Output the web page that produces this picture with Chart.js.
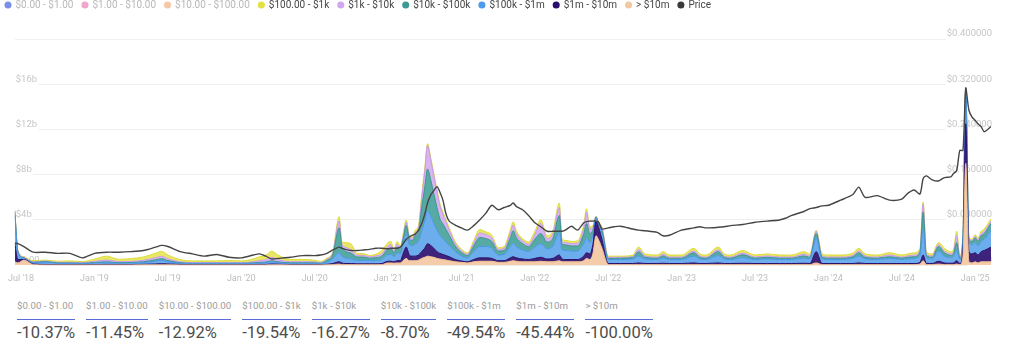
<!DOCTYPE html>
<html><head><meta charset="utf-8">
<script src="https://cdn.jsdelivr.net/npm/chart.js@4.4.1/dist/chart.umd.min.js"></script>
<style>
html,body{margin:0;padding:0;background:#fff;}
body{width:1024px;height:353px;overflow:hidden;position:relative;font-family:Roboto,'Open Sans',sans-serif;}
#wrap{position:absolute;left:0;top:0;width:1024px;height:292px;}
#stats{position:absolute;left:17px;top:300px;display:flex;gap:11px;}
.col .lab{font-size:9.7px;color:#9c9c9c;padding-bottom:7px;border-bottom:1.5px solid #5b6bd6;white-space:nowrap;line-height:12px;}
.col .val{font-size:16.5px;color:#4d4d4d;margin-top:3px;white-space:nowrap;line-height:20px;}
</style></head><body>
<div id="wrap"><canvas id="c" width="1024" height="292"></canvas></div>
<div id="stats"></div>
<script>
// ---------- data ----------
const dates = [
'2018-06-16','2018-06-24','2018-07-08','2018-08-01','2018-09-01','2018-10-01','2018-11-01','2018-12-01',
'2019-01-01','2019-02-01','2019-03-01','2019-04-01','2019-05-01','2019-06-01','2019-06-16','2019-07-01','2019-08-01','2019-09-01','2019-10-01','2019-11-01','2019-12-01',
'2020-01-01','2020-02-01','2020-02-16','2020-03-01','2020-03-16','2020-04-01','2020-05-01','2020-06-01','2020-07-01','2020-07-16','2020-08-01','2020-08-16','2020-09-01','2020-09-08','2020-09-16','2020-10-01','2020-10-16','2020-11-01','2020-11-16','2020-12-01','2020-12-16',
'2021-01-01','2021-01-08','2021-01-16','2021-01-24','2021-02-01','2021-02-08','2021-02-16','2021-02-24','2021-03-01','2021-03-08','2021-03-16','2021-03-24','2021-04-01','2021-04-08','2021-04-16','2021-04-24','2021-05-01','2021-05-08','2021-05-16','2021-05-24','2021-06-01','2021-06-16','2021-07-01','2021-07-16','2021-08-01','2021-08-16','2021-09-01','2021-09-16','2021-10-01','2021-10-16','2021-11-01','2021-11-08','2021-11-16','2021-12-01','2021-12-16',
'2022-01-01','2022-01-16','2022-02-01','2022-02-16','2022-03-01','2022-03-08','2022-03-16','2022-04-01','2022-04-16','2022-05-01','2022-05-08','2022-05-16','2022-05-24','2022-06-01','2022-06-08','2022-06-16','2022-07-01','2022-07-16','2022-08-01','2022-09-01','2022-09-16','2022-10-01','2022-11-01','2022-11-16','2022-12-01',
'2023-01-01','2023-02-01','2023-02-16','2023-03-01','2023-04-01','2023-04-16','2023-05-01','2023-06-01','2023-07-01','2023-08-01','2023-09-01','2023-09-16','2023-10-01','2023-11-01','2023-11-16','2023-12-01','2023-12-16',
'2024-01-01','2024-02-01','2024-03-01','2024-03-16','2024-04-01','2024-05-01','2024-06-01','2024-07-01','2024-07-16','2024-08-01','2024-08-16','2024-08-24','2024-09-01','2024-09-16','2024-10-01','2024-10-16','2024-11-01','2024-11-08','2024-11-16','2024-11-24','2024-12-01','2024-12-08','2024-12-16','2024-12-24',
'2025-01-01','2025-01-08','2025-01-16','2025-01-24','2025-02-10'
];
// balances in $ billions
const over10m = [
.3,.2,.45,.05,.02,.02,.02,.02,
.02,.02,.02,.02,.03,.03,.03,.03,.02,.02,.02,.02,.02,
.02,.02,.02,.02,.03,.03,.02,.02,.02,.02,.03,.05,.1,.05,.05,.05,.04,.04,.04,.04,.05,
.2,.2,.18,.2,.2,.4,.6,.4,.4,.4,.45,.6,.7,.8,.75,.7,.6,.55,.5,.45,.4,.3,.25,.2,.3,.35,.35,.35,.25,.25,.35,.4,.35,.3,.3,
.3,.35,.3,.3,.4,.3,.3,.3,.3,.4,.6,.5,1.0,2.6,2.2,1.5,.05,.05,.05,.05,.05,.05,.05,.05,.05,
.05,.05,.05,.05,.05,.05,.05,.05,.05,.05,.05,.05,.05,.05,.05,.2,.05,
.05,.05,.05,.05,.05,.05,.05,.05,.05,.05,.1,.4,.05,.05,.1,.05,.05,.05,.1,.05,.8,9.0,.3,.2,
.3,.2,.3,.3,.3
];
const m1to10m = [
1.6,.3,.05,.05,.05,.03,.03,.03,
.04,.05,.04,.04,.05,.08,.1,.08,.05,.03,.03,.03,.03,
.03,.04,.05,.05,.08,.06,.04,.04,.04,.03,.05,.1,.2,.15,.1,.1,.08,.08,.08,.08,.1,
.15,.15,.12,.2,.2,.6,1.0,.5,.4,.4,.45,.6,.8,1.1,1.0,.8,.6,.5,.45,.4,.35,.2,.12,.1,.2,.3,.3,.25,.15,.15,.3,.35,.3,.25,.2,
.3,.35,.25,.3,.5,.25,.2,.2,.2,.4,.5,.5,.8,1.3,1.1,.8,.1,.1,.1,.1,.15,.1,.1,.12,.1,
.1,.15,.1,.1,.15,.1,.1,.12,.1,.1,.1,.1,.1,.12,.1,1.0,.1,
.1,.1,.1,.15,.1,.1,.1,.1,.1,.1,.15,.5,.12,.1,.25,.15,.12,.15,.3,.1,.6,3.5,.9,.8,
.8,.7,.9,1.0,1.3
];
const k100to1m = [
2.5,.6,.1,.1,.2,.1,.1,.08,
.12,.15,.1,.12,.15,.25,.3,.2,.1,.08,.08,.08,.08,
.08,.1,.12,.15,.2,.15,.1,.1,.1,.08,.2,.4,.8,.6,.5,.4,.3,.3,.3,.3,.35,
.6,.6,.45,.7,.6,.8,1.2,.9,.9,1.1,1.2,1.8,2.4,2.9,2.6,2.2,1.9,1.6,1.4,1.2,1.0,.7,.45,.35,.7,1.0,1.0,.9,.5,.55,1.0,1.2,1.0,.8,.7,
1.0,1.2,.9,1.1,2.0,.8,.8,.75,.75,1.1,1.3,1.0,.8,.25,.25,.5,.35,.35,.35,.4,.6,.4,.35,.45,.35,
.35,.6,.4,.35,.65,.4,.35,.5,.35,.4,.35,.35,.35,.45,.4,1.2,.4,
.35,.35,.45,.6,.4,.35,.45,.35,.4,.45,.6,2.3,.5,.4,.9,.6,.5,.55,.9,.35,.8,2.8,.8,.8,
.9,.8,.9,1.0,1.5
];
const k10to100k = [
.3,.1,.05,.05,.05,.05,.05,.04,
.06,.08,.06,.06,.08,.12,.15,.1,.05,.04,.04,.04,.04,
.04,.05,.06,.06,.08,.06,.05,.05,.05,.04,.15,.4,2.2,.8,.6,.5,.3,.3,.2,.25,.3,
.5,.55,.35,.5,.4,.5,.7,.5,.5,.7,.8,2.0,3.0,3.7,3.2,2.6,2.0,1.5,1.3,1.1,.9,.5,.3,.2,.5,.8,.7,.6,.35,.35,.8,1.1,.8,.55,.45,
.7,.9,.6,.7,1.5,.5,.5,.45,.45,.9,1.3,.8,.5,.1,.1,.3,.1,.1,.12,.12,.4,.15,.12,.2,.12,
.12,.3,.15,.12,.35,.15,.12,.25,.12,.15,.12,.12,.12,.2,.15,.4,.15,
.12,.12,.15,.3,.15,.12,.15,.12,.15,.15,.3,1.5,.2,.15,.4,.3,.2,.25,.7,.12,.4,.3,.3,.3,
.4,.4,.5,.5,.6
];
const k1to10k = [
.1,.05,.05,.05,.05,.05,.06,.05,
.1,.15,.1,.1,.12,.18,.2,.15,.08,.06,.06,.06,.06,
.06,.1,.15,.2,.3,.2,.1,.1,.08,.06,.1,.15,.6,.3,.35,.3,.15,.15,.12,.15,.2,
.25,.3,.15,.25,.15,.2,.3,.2,.2,.3,.35,.8,1.4,2.1,1.8,1.6,1.4,1.15,.85,.65,.45,.25,.15,.12,.25,.4,.35,.3,.15,.2,.4,.5,.35,.25,.2,
.4,.9,.3,.4,.7,.25,.2,.2,.25,.5,1.0,.4,.25,.05,.05,.2,.1,.1,.08,.1,.2,.12,.1,.15,.1,
.1,.15,.12,.1,.15,.12,.1,.15,.1,.12,.1,.1,.1,.15,.12,.2,.12,
.1,.1,.12,.15,.12,.1,.15,.1,.12,.15,.15,.7,.15,.12,.15,.15,.15,.2,.6,.1,.2,.1,.1,.1,
.15,.15,.2,.2,.2
];
const d100to1k = [
.1,.05,.05,.1,.08,.1,.12,.1,
.2,.35,.2,.25,.3,.4,.45,.35,.2,.15,.15,.15,.18,
.15,.25,.35,.4,.55,.4,.2,.2,.15,.1,.1,.1,.4,.2,.4,.5,.15,.15,.12,.15,.3,
.3,.3,.15,.25,.15,.2,.2,.2,.2,.2,.25,.3,.3,.15,.2,.2,.2,.2,.2,.2,.2,.15,.15,.13,.2,.3,.25,.25,.15,.15,.3,.3,.25,.2,.2,
.3,.3,.25,.3,.4,.2,.2,.2,.2,.3,.3,.2,.15,.05,.1,.1,.1,.1,.1,.13,.2,.18,.18,.23,.18,
.18,.25,.18,.18,.25,.18,.18,.23,.18,.18,.18,.18,.18,.23,.18,.1,.18,
.18,.18,.2,.25,.18,.18,.2,.18,.18,.2,.2,.2,.18,.18,.2,.25,.18,.2,.4,.1,.2,.05,.1,.1,
.15,.15,.2,.2,.2
];
// price in USD
const price = [
.039,.038,.033,.023,.023,.021,.021,.013,
.021,.023,.023,.024,.026,.032,.035,.033,.024,.02,.016,.019,.014,
.013,.018,.02,.016,.011,.012,.014,.017,.017,.018,.021,.027,.032,.03,.028,.026,.026,.027,.028,.03,.03,
.029,.03,.03,.03,.032,.038,.046,.05,.053,.055,.062,.073,.09,.11,.124,.132,.139,.13,.115,.09,.078,.071,.066,.062,.07,.08,.092,.106,.098,.102,.106,.11,.104,.098,.088,
.075,.068,.06,.06,.06,.06,.062,.069,.062,.075,.077,.078,.078,.078,.076,.064,.066,.068,.069,.064,.062,.061,.058,.052,.053,
.062,.066,.068,.066,.067,.068,.07,.072,.076,.078,.08,.083,.088,.095,.1,.102,.105,
.106,.115,.125,.138,.12,.123,.115,.117,.127,.133,.126,.153,.158,.151,.149,.155,.156,.162,.167,.203,.203,.313,.274,.262,
.256,.25,.245,.236,.245
];
// small tiers (hidden in the reference legend state)
const smallDates = ['2018-06-16','2019-01-01','2019-07-01','2020-01-01','2020-07-01','2021-01-01','2021-07-01','2022-01-01','2022-07-01','2023-01-01','2023-07-01','2024-01-01','2024-07-01','2025-02-10'];
const d0to1 = [.002,.002,.002,.002,.002,.003,.003,.003,.003,.003,.003,.003,.003,.003];
const d1to10 = [.01,.01,.01,.01,.01,.012,.012,.012,.012,.011,.011,.011,.011,.011];
const d10to100 = [.03,.03,.03,.03,.03,.035,.035,.035,.035,.034,.034,.034,.034,.034];

const legendOrder = ['$0.00 - $1.00','$1.00 - $10.00','$10.00 - $100.00','$100.00 - $1k','$1k - $10k','$10k - $100k','$100k - $1m','$1m - $10m','> $10m','Price'];
const xTickDates = ['2018-07-01','2019-01-01','2019-07-01','2020-01-01','2020-07-01','2021-01-01','2021-07-01','2022-01-01','2022-07-01','2023-01-01','2023-07-01','2024-01-01','2024-07-01','2025-01-01'];
const xTickLabels = ["Jul '18","Jan '19","Jul '19","Jan '20","Jul '20","Jan '21","Jul '21","Jan '22","Jul '22","Jan '23","Jul '23","Jan '24","Jul '24","Jan '25"];
const leftTicks = {min:0, max:20, step:4};
const rightTicks = {min:0, max:0.4, step:0.08};

const statLabels = ['$0.00 - $1.00','$1.00 - $10.00','$10.00 - $100.00','$100.00 - $1k','$1k - $10k','$10k - $100k','$100k - $1m','$1m - $10m','> $10m'];
const statValues = ['-10.37%','-11.45%','-12.92%','-19.54%','-16.27%','-8.70%','-49.54%','-45.44%','-100.00%'];

// ---------- build ----------
const toM = s => { const [y,m,d] = s.split('-').map(Number); return (y-2018)*12 + (m-1) + (d-1)/31; };
const pts = (ds, arr) => ds.map((d,i) => ({x: toM(d), y: arr[i]}));
const FONT = 'Roboto';

function area(label, arr, fill, line, legendColor, opts={}) {
  return Object.assign({label, data: pts(dates, arr), backgroundColor: fill, borderColor: line, legendColor,
    borderWidth: 1, pointRadius: 0, fill: '-1', yAxisID: 'y', cubicInterpolationMode: 'monotone'}, opts);
}
const datasets = [
  area('> $10m', over10m, 'rgba(243,199,160,0.9)', '#edbb8e', '#f2c8a2', {fill:'origin'}),
  area('$1m - $10m', m1to10m, 'rgba(44,16,112,0.92)', '#2a0f6b', '#2a0f6b'),
  area('$100k - $1m', k100to1m, 'rgba(88,162,236,0.88)', '#4a95e6', '#4d9bea'),
  area('$10k - $100k', k10to100k, 'rgba(64,158,150,0.88)', '#3a958d', '#3d9a92'),
  area('$1k - $10k', k1to10k, 'rgba(212,170,241,0.88)', '#c99ae9', '#d1a8f0'),
  area('$100.00 - $1k', d100to1k, 'rgba(228,228,84,0.9)', '#dcdc3c', '#e1e23f'),
  Object.assign(area('$10.00 - $100.00', [], 'rgba(245,198,165,0.9)', '#f5c6a5', '#f6c7a4', {hidden:true}), {data: pts(smallDates, d10to100)}),
  Object.assign(area('$1.00 - $10.00', [], 'rgba(243,168,207,0.9)', '#f3a8cf', '#f0a5cc', {hidden:true}), {data: pts(smallDates, d1to10)}),
  Object.assign(area('$0.00 - $1.00', [], 'rgba(127,142,230,0.9)', '#7f8ee6', '#7b8ee8', {hidden:true}), {data: pts(smallDates, d0to1)}),
  {label:'Price', data: pts(dates, price), yAxisID:'y1', borderColor:'#454545', backgroundColor:'#454545', legendColor:'#3a3a3a',
   borderWidth:1.4, pointRadius:0, fill:false, tension:0.25, order:-1}
];
const xMin = toM(dates[0]), xMax = toM(dates[dates.length-1]);

const legendShift = {id:'legendShift', afterLayout(chart){ const l = chart.legend; if(!l) return; l.left -= 3.5; l.right -= 3.5; l.top -= 19; l.bottom -= 19; }};

new Chart(document.getElementById('c'), {
  type: 'line',
  data: {datasets},
  plugins: [legendShift],
  options: {
    responsive: false, animation: false, devicePixelRatio: 1,
    layout: {padding: {left: 0, right: 0, top: 10, bottom: 0}},
    interaction: {mode: 'nearest', intersect: false},
    plugins: {
      tooltip: {enabled: false},
      legend: {
        position: 'top', align: 'start',
        labels: {
          usePointStyle: true, pointStyle: 'circle', boxWidth: 5, boxHeight: 5, padding: 9,
          font: {family: FONT, size: 10},
          generateLabels(chart) {
            const items = Chart.defaults.plugins.legend.labels.generateLabels(chart);
            items.forEach(it => {
              const ds = chart.data.datasets[it.datasetIndex];
              it.fillStyle = ds.legendColor; it.strokeStyle = ds.legendColor; it.lineWidth = 0;
              it.fontColor = it.hidden ? '#b8b8b8' : '#444';
              it.hidden = false; it.pointStyle = 'circle';
            });
            items.sort((a,b) => legendOrder.indexOf(a.text) - legendOrder.indexOf(b.text));
            return items;
          }
        }
      }
    },
    scales: {
      x: {
        type: 'linear', min: xMin, max: xMax,
        grid: {display: false, drawTicks: false}, border: {display: false},
        afterBuildTicks: axis => { axis.ticks = xTickDates.map(d => ({value: toM(d)})); },
        ticks: {autoSkip: false, maxRotation: 0, minRotation: 0, padding: 8, color: '#bdbdbd',
          font: {family: FONT, size: 9}, callback: (v, i) => xTickLabels[i]}
      },
      y: {
        position: 'left', stacked: true, min: leftTicks.min, max: leftTicks.max,
        afterFit: s => { s.width = 12; },
        grid: {color: '#efefef', drawTicks: false, lineWidth: 1}, border: {display: false},
        ticks: {stepSize: leftTicks.step, mirror: true, padding: 1, labelOffset: -5, color: '#c6c6c6',
          font: {family: FONT, size: 9.5},
          showLabelBackdrop: true, backdropPadding: {top: 1, bottom: 2, left: 1, right: 1},
          backdropColor: ctx => ctx.tick && ctx.tick.value === leftTicks.max ? 'rgba(0,0,0,0)' : '#ffffff',
          callback: v => v === 0 ? '$0.00' : (v === leftTicks.max ? '' : '$' + v + 'b')}
      },
      y1: {
        position: 'right', stacked: false, min: rightTicks.min, max: rightTicks.max,
        afterFit: s => { s.width = 33; },
        grid: {drawOnChartArea: false, drawTicks: false}, border: {display: false},
        ticks: {stepSize: rightTicks.step, mirror: true, padding: 1, labelOffset: -5, color: '#c6c6c6',
          font: {family: FONT, size: 9.5},
          showLabelBackdrop: true, backdropColor: '#ffffff', backdropPadding: {top: 1, bottom: 2, left: 1, right: 1},
          callback: v => v === 0 ? '$0.00' : '$' + v.toFixed(6)}
      }
    }
  }
});

// stats row
const st = document.getElementById('stats');
statLabels.forEach((l, i) => {
  const c = document.createElement('div'); c.className = 'col';
  const a = document.createElement('div'); a.className = 'lab'; a.textContent = l;
  const b = document.createElement('div'); b.className = 'val'; b.textContent = statValues[i];
  c.appendChild(a); c.appendChild(b); st.appendChild(c);
});
</script>
</body></html>
